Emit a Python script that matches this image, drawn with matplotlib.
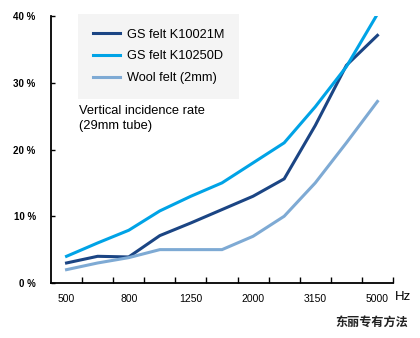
import numpy as np
import matplotlib
matplotlib.use("Agg")
import matplotlib.pyplot as plt

plt.rcParams['font.family'] = ['Liberation Sans', 'Noto Sans CJK SC', 'DejaVu Sans']

# 频率 (Hz)
freqs = ['500', '630', '800', '1000', '1250', '1600', '2000', '2500', '3150', '4000', '5000']
shown_labels = ['500', '800', '1250', '2000', '3150', '5000']

# 吸音率 (%)
k10021m = [3.0, 4.0, 3.9, 7.1, 9.0, 11.0, 13.0, 15.6, 23.6, 32.6, 37.1]
k10250d = [4.0, 6.0, 7.9, 10.8, 13.0, 15.0, 18.0, 21.0, 26.4, 32.4, 40.3]
wool = [2.0, 3.0, 3.8, 5.0, 5.0, 5.0, 7.0, 10.0, 15.0, 21.0, 27.2]

names = ['GS felt K10021M', 'GS felt K10250D', 'Wool felt (2mm)']
colors = ['#1b4584', '#00a3e6', '#7eaad4']

x = np.arange(len(freqs))

fig = plt.figure(figsize=(4.2, 3.38), dpi=100)
ax = fig.add_axes([51/420, 55/338, 342/420, 267/338])

for vals, name, c in zip([k10021m, k10250d, wool], names, colors):
    ax.plot(x, vals, color=c, lw=2.2, label=name, solid_joinstyle='miter')

ax.set_xlim(-0.5, 10.5)
ax.set_ylim(0, 40)

for s in ['top', 'right']:
    ax.spines[s].set_visible(False)
for s in ['left', 'bottom']:
    ax.spines[s].set_linewidth(1.3)
    ax.spines[s].set_color('black')

# x 轴: 标签在数据点, 刻度在两点之间
ax.set_xticks([freqs.index(l) for l in shown_labels])
ax.set_xticklabels(shown_labels)
ax.set_xticks(np.arange(0.5, 10.6, 1.0), minor=True)
ax.tick_params(axis='x', which='major', length=0, pad=8, labelsize=7.5)
ax.tick_params(axis='x', which='minor', direction='in', length=4, width=1)

ax.set_yticks([0, 10, 20, 30, 40])
ax.set_yticklabels(['0 %', '10 %', '20 %', '30 %', '40 %'], fontweight='bold')
ax.tick_params(axis='y', direction='in', length=3, width=1, pad=11, labelsize=7)

leg = fig.legend(loc='upper left', bbox_to_anchor=(78/420, 1 - 14/338), frameon=True,
                 fancybox=False, handlelength=2.1, handletextpad=0.55,
                 labelspacing=0.76, borderpad=1.15, borderaxespad=0, fontsize=9.2)
leg.get_frame().set_facecolor('#f4f4f4')
leg.get_frame().set_edgecolor('none')
leg.get_frame().set_alpha(1)

fig.text(79/420, 1 - 111/338, 'Vertical incidence rate', fontsize=9.3, va='center', ha='left')
fig.text(79/420, 1 - 126/338, '(29mm tube)', fontsize=9.3, va='center', ha='left')
fig.text(395/420, 1 - 297/338, 'Hz', fontsize=9.5, va='center', ha='left')
fig.text(408/420, 1 - 322/338, '东丽专有方法', fontsize=8.7, va='center', ha='right',
         family=['Noto Sans CJK SC', 'DejaVu Sans'], fontweight='bold', color='#222222')

fig.savefig('out.png', dpi=100)
